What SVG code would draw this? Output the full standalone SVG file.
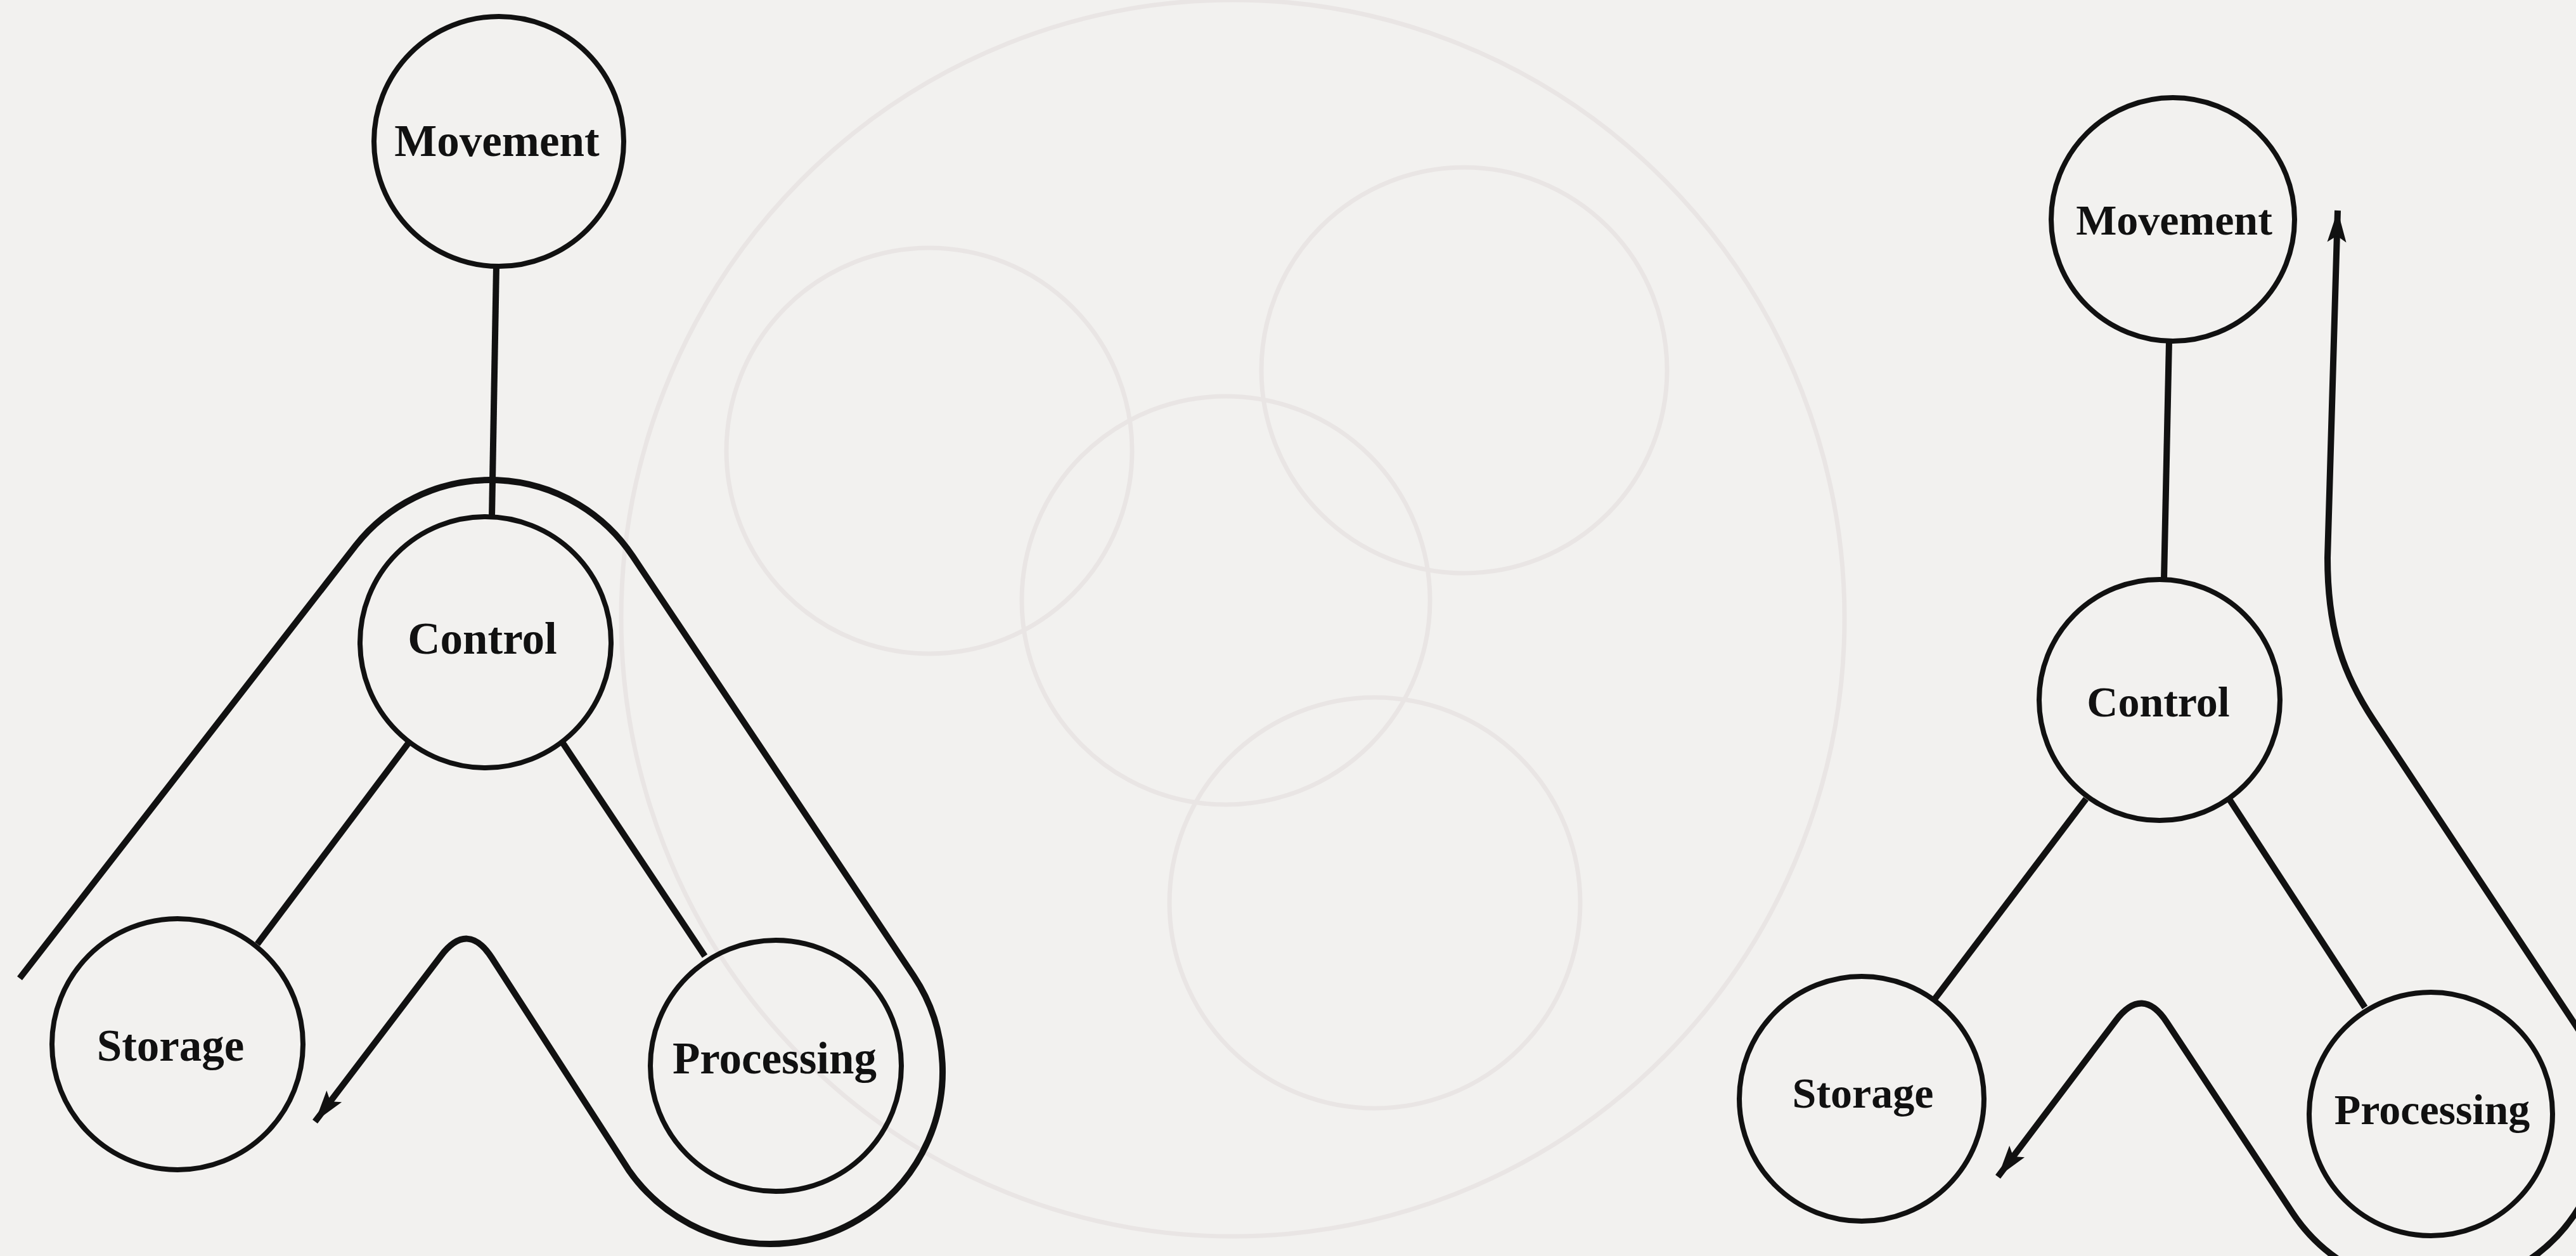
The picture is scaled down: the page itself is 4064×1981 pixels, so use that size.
<svg xmlns="http://www.w3.org/2000/svg" width="4064" height="1981" viewBox="0 0 4064 1981">
  <style>
    .node circle { fill: none; stroke: #111; stroke-width: 8; }
    .node text { font-family: "Liberation Serif", "Times New Roman", serif; font-weight: bold; fill: #111; text-anchor: middle; }
    .lbl-l { font-size: 71px; }
    .lbl-r { font-size: 68px; }
    .conn { fill: none; stroke: #111; stroke-width: 10; stroke-linejoin: round; }
    .ghost { fill: none; stroke: #e9e5e4; stroke-width: 7; }
  </style>
  <defs>
    <marker id="arrow" viewBox="-52 -17 54 34" refX="0" refY="0" markerWidth="54" markerHeight="34" markerUnits="userSpaceOnUse" orient="auto-start-reverse">
      <path d="M0,0 L-50,-15 L-40,0 L-50,15 Z" fill="#111"/>
    </marker>
  </defs>

  <rect x="0" y="0" width="4064" height="1981" fill="#f2f1ef"/>

  <!-- faint bleed-through from the reverse of the page -->
  <g id="bleed-through">
    <ellipse class="ghost" cx="1945" cy="975" rx="965" ry="975"/>
    <circle class="ghost" cx="1466" cy="711" r="320"/>
    <circle class="ghost" cx="2310" cy="584" r="320"/>
    <circle class="ghost" cx="1934" cy="947" r="322"/>
    <circle class="ghost" cx="2169" cy="1424" r="324"/>
  </g>

  <!-- connectors -->
  <g id="connectors">
    <!-- left diagram -->
    <line class="conn" x1="783" y1="420" x2="776" y2="815"/>
    <line class="conn" x1="645" y1="1171" x2="406" y2="1489"/>
    <line class="conn" x1="886" y1="1169" x2="1112" y2="1508"/>
    <path class="conn" marker-end="url(#arrow)" d="M 31 1543 L 561.6 859.7 A 270 270 0 0 1 998.4 877.6 L 1441.6 1539.5 A 272 272 0 0 1 1215 1962 A 272 272 0 0 1 991.7 1845.3 L 775.9 1510.8 Q 738 1452 695.6 1507.7 L 497 1769"/>
    <!-- right diagram -->
    <line class="conn" x1="3422" y1="538" x2="3414" y2="914"/>
    <line class="conn" x1="3291" y1="1260" x2="3052" y2="1576"/>
    <line class="conn" x1="3518" y1="1262" x2="3731" y2="1589"/>
    <path class="conn" marker-start="url(#arrow)" marker-end="url(#arrow)" d="M 3688 332 L 3672 880 C 3672 1000 3700 1068 3744 1135 L 4064 1618 A 268 268 0 0 1 3840 2033 A 268 268 0 0 1 3616.3 1912.3 L 3418.5 1612.4 Q 3380 1554 3337.8 1609.9 L 3152 1856"/>
  </g>

  <!-- left diagram nodes -->
  <g id="left-movement" class="node">
    <circle cx="787" cy="223" r="197"/>
    <text class="lbl-l" x="784" y="246">Movement</text>
  </g>
  <g id="left-control" class="node">
    <circle cx="766" cy="1013" r="198"/>
    <text class="lbl-l" x="761" y="1031">Control</text>
  </g>
  <g id="left-storage" class="node">
    <circle cx="280" cy="1647" r="198"/>
    <text class="lbl-l" x="269" y="1673">Storage</text>
  </g>
  <g id="left-processing" class="node">
    <circle cx="1224" cy="1681" r="198"/>
    <text class="lbl-l" x="1222" y="1693">Processing</text>
  </g>

  <!-- right diagram nodes -->
  <g id="right-movement" class="node">
    <circle cx="3428" cy="346" r="192"/>
    <text class="lbl-r" x="3430" y="370">Movement</text>
  </g>
  <g id="right-control" class="node">
    <circle cx="3407" cy="1104" r="190"/>
    <text class="lbl-r" x="3405" y="1130">Control</text>
  </g>
  <g id="right-storage" class="node">
    <circle cx="2937" cy="1733" r="193"/>
    <text class="lbl-r" x="2939" y="1747">Storage</text>
  </g>
  <g id="right-processing" class="node">
    <circle cx="3835" cy="1757" r="192"/>
    <text class="lbl-r" x="3837" y="1773">Processing</text>
  </g>
</svg>
